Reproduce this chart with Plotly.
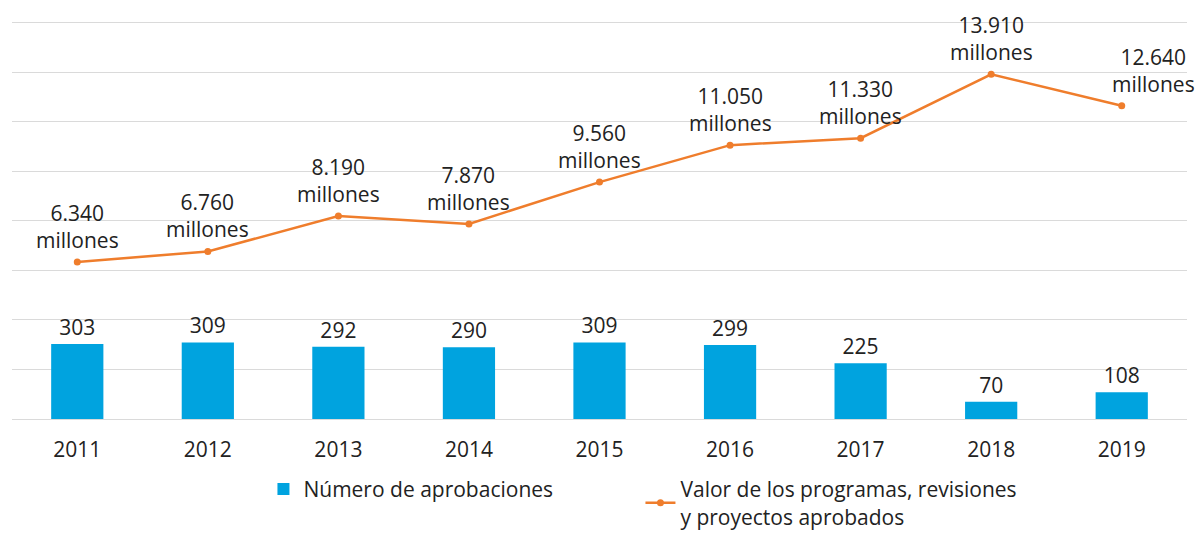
import plotly.graph_objects as go

years = ["2011", "2012", "2013", "2014", "2015", "2016", "2017", "2018", "2019"]
aprobaciones = [303, 309, 292, 290, 309, 299, 225, 70, 108]
valor = [6340, 6760, 8190, 7870, 9560, 11050, 11330, 13910, 12640]
valor_labels = ["6.340<br>millones", "6.760<br>millones", "8.190<br>millones", "7.870<br>millones",
                "9.560<br>millones", "11.050<br>millones", "11.330<br>millones", "13.910<br>millones",
                "12.640<br>millones"]
label_xshift = [0, 0, 0, 0, 0, 0, 0, 0, 32]

FONT = "Open Sans"
FS = 21
BLUE = "#00A3DF"
ORANGE = "#EF7D2C"
TXT = "#222222"

fig = go.Figure()
fig.add_trace(go.Bar(
    x=years, y=aprobaciones, name="Número de aprobaciones",
    marker=dict(color=BLUE, line=dict(width=0)), width=0.4,
    text=[str(v) for v in aprobaciones], textposition="outside",
    textfont=dict(family=FONT, size=FS, color=TXT), cliponaxis=False,
))
fig.add_trace(go.Scatter(
    x=years, y=valor, name="Valor de los programas, revisiones<br>y proyectos aprobados",
    mode="lines+markers", yaxis="y2",
    line=dict(color=ORANGE, width=2.5), marker=dict(color=ORANGE, size=7),
    cliponaxis=False,
))

# category axis: annotation x given as category index
for i, (v, lab, xs) in enumerate(zip(valor, valor_labels, label_xshift)):
    fig.add_annotation(x=i, y=v, xref="x", yref="y2", text=lab, showarrow=False,
                       yanchor="bottom", xanchor="center", yshift=6, xshift=xs,
                       font=dict(family=FONT, size=FS, color=TXT))

fig.update_layout(
    width=1197, height=533,
    margin=dict(l=12, r=10, t=20, b=114, autoexpand=False),
    paper_bgcolor="white", plot_bgcolor="white",
    font=dict(family=FONT, size=FS, color=TXT),
    showlegend=True,
    legend=dict(orientation="h", x=0.214, xanchor="left", y=-0.125, yanchor="top",
                font=dict(family=FONT, size=FS, color=TXT),
                itemwidth=30, tracegroupgap=0, entrywidth=332),
    xaxis=dict(type="category", range=[-0.5, len(years) - 0.5], showgrid=False, showline=False,
               ticks="", tickfont=dict(size=FS), ticklabelstandoff=16),
    yaxis=dict(range=[0, 1610], tickvals=[0, 200, 400, 600, 800, 1000, 1200, 1400, 1600],
               showgrid=True, gridcolor="#DADADA", gridwidth=1,
               showticklabels=False, zeroline=True, zerolinecolor="#DADADA", zerolinewidth=1),
    yaxis2=dict(range=[0, 16100], overlaying="y", side="right", showgrid=False,
                showticklabels=False, zeroline=False),
)

fig.write_html("out.html", config={"displayModeBar": False},
               post_script="document.body.style.margin='0';")
